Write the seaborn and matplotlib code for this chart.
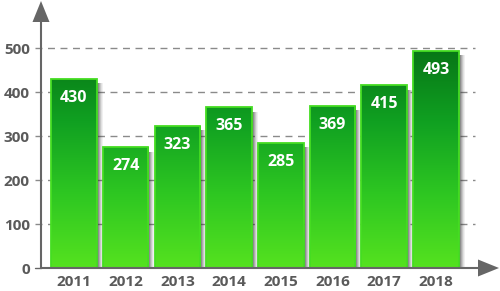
import numpy as np
import pandas as pd
import matplotlib
matplotlib.use("Agg")
import matplotlib.pyplot as plt
import seaborn as sns
from matplotlib.colors import LinearSegmentedColormap
from matplotlib.patches import Polygon

years = ["2011", "2012", "2013", "2014", "2015", "2016", "2017", "2018"]
values = [430, 274, 323, 365, 285, 369, 415, 493]
yticks = [0, 100, 200, 300, 400, 500]

sns.set_theme(style="white")
plt.rcParams['font.family'] = ['Open Sans', 'DejaVu Sans']

df = pd.DataFrame({"year": years, "value": values})

fig = plt.figure(figsize=(5, 2.91), dpi=100)
W, H = 500, 291
x0, x1 = 41, 497
yb, yt = 268, 2
ax = fig.add_axes([x0 / W, (H - yb) / H, (x1 - x0) / W, (yb - yt) / H])

step = 51.7
c0 = 74
xlim = ((x0 - c0) / step, (x1 - c0) / step)
ppu = 0.44
ylim = (0, (yb - yt) / ppu)

sns.barplot(data=df, x="year", y="value", ax=ax, width=0.88, color="#2bc020",
            edgecolor="#45dd22", linewidth=1.3, zorder=3)
ax.set_xlim(*xlim)
ax.set_ylim(*ylim)

cmap = LinearSegmentedColormap.from_list("g", ["#55e21f", "#2ec722", "#10a021", "#077516"])
grad = np.linspace(0, 1, 256).reshape(-1, 1)
px = 1 / step  # one pixel in x data units
bars = list(ax.patches)
for p in bars:
    p.set_facecolor("none")
    bx, by = p.get_x(), p.get_y()
    bw, bh = p.get_width(), p.get_height()
    # soft shadow on the right side
    for k, a in enumerate([0.7, 0.55, 0.4, 0.27, 0.15, 0.07]):
        ax.add_patch(plt.Rectangle((bx + bw + k * px, by), px, bh - 10, facecolor="#303030",
                                   alpha=a, edgecolor="none", zorder=2.2, linewidth=0))
    im = ax.imshow(grad, cmap=cmap, origin="lower", aspect="auto",
                   extent=(bx, bx + bw, 0, 500), zorder=2.5)
    im.set_clip_path(p)
    ax.text(bx + bw / 2, by + bh - 43, f"{int(round(bh))}", ha="center", va="center",
            color="white", fontsize=11.5, fontweight="bold", zorder=5)
ax.set_xlim(*xlim)
ax.set_ylim(*ylim)

# grid lines
gx0 = (35 - c0) / step
gx1 = (475 - c0) / step
for t in yticks[1:]:
    ax.plot([gx0, gx1], [t, t], color="#8a8a8a", lw=1.0, ls=(0, (5, 4)), zorder=1, clip_on=False)
ax.plot([gx0, xlim[0]], [0, 0], color="#666666", lw=1.0, zorder=1, clip_on=False)

for s in ax.spines.values():
    s.set_visible(False)
ax.set_xticks(range(len(years)))
ax.set_xticklabels(years)
ax.set_yticks(yticks)
ax.tick_params(axis="both", length=0, labelsize=11, colors="#5a5a5a")
for lab in ax.get_xticklabels() + ax.get_yticklabels():
    lab.set_fontweight("bold")
ax.tick_params(axis="y", pad=8)
ax.tick_params(axis="x", pad=5)
ax.set_xlabel("")
ax.set_ylabel("")

# axes with arrows (in figure pixel coords)
tr = fig.transFigure
def P(x, y):
    return (x / W, (H - y) / H)
fig.add_artist(plt.Line2D([P(41, 268)[0], P(480, 268)[0]], [P(41, 268)[1]] * 2,
                          color="#666666", lw=1.5, transform=tr, zorder=10))
fig.add_artist(plt.Line2D([P(41, 268)[0]] * 2, [P(41, 268)[1], P(41, 18)[1]],
                          color="#666666", lw=1.5, transform=tr, zorder=10))
fig.add_artist(Polygon([P(41, 1), P(32.5, 22), P(49.5, 22)], closed=True,
                       facecolor="#666666", edgecolor="none", transform=tr, zorder=10))
fig.add_artist(Polygon([P(499, 268), P(478, 259.5), P(478, 276.5)], closed=True,
                       facecolor="#666666", edgecolor="none", transform=tr, zorder=10))

fig.savefig("out.png", dpi=100)
